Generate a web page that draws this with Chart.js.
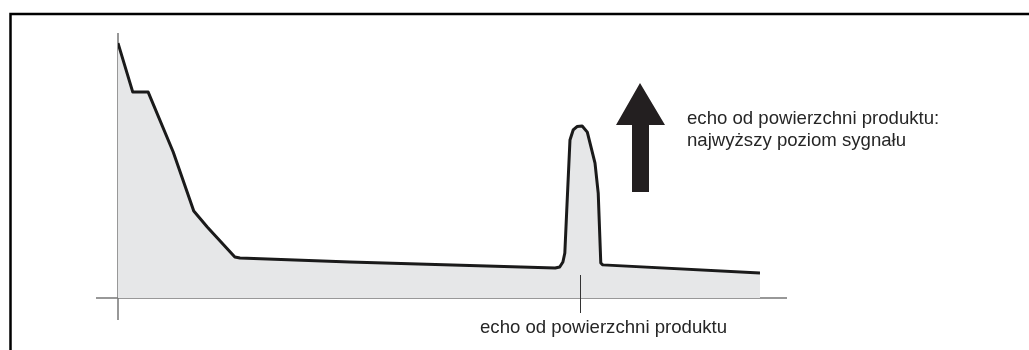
<!DOCTYPE html>
<html>
<head>
<meta charset="utf-8">
<script src="https://cdn.jsdelivr.net/npm/chart.js@4"></script>
<style>
  body { margin: 0; background: #fff; }
  #wrap { position: relative; width: 1029px; height: 350px; }
  .note {
    position: absolute;
    font-family: "Liberation Sans", Arial, sans-serif;
    font-size: 18.6px;
    line-height: 22px;
    color: #262626;
    white-space: nowrap;
  }
</style>
</head>
<body>
<div id="wrap">
  <canvas id="echo" width="1029" height="350"></canvas>
  <div class="note" style="left:687px; top:107px;">echo od powierzchni produktu:<br>najwyższy poziom sygnału</div>
  <div class="note" style="left:480px; top:316px;">echo od powierzchni produktu</div>
</div>
<script>
// echo envelope: distance (x) vs. signal level (y), both 0..100
const distance = [0, 2.3, 4.7, 8.6, 11.8, 13.9, 18.2, 19.0, 36.1, 68.1, 68.8, 69.3, 69.6, 69.9, 70.4, 70.9, 71.5, 72.3, 73.1, 74.3, 74.8, 75.2, 75.5, 100];
const level    = [96.2, 77.7, 77.7, 55.1, 32.8, 26.8, 15.5, 15.1, 13.6, 11.3, 11.7, 13.6, 17.0, 33.2, 59.6, 63.4, 64.7, 64.9, 62.6, 50.9, 39.6, 13.2, 12.5, 9.4];
const echoPos  = [72];

const points = distance.map((x, i) => ({ x: x, y: level[i] }));

const decor = {
  id: "decor",
  beforeDatasetsDraw(chart) {
    const ctx = chart.ctx;
    const a = chart.chartArea;
    ctx.save();
    // axes
    ctx.strokeStyle = "#777";
    ctx.lineWidth = 1.5;
    ctx.beginPath();
    ctx.moveTo(a.left, a.top);
    ctx.lineTo(a.left, a.bottom + 22);
    ctx.moveTo(a.left - 22, a.bottom);
    ctx.lineTo(a.right + 27, a.bottom);
    ctx.stroke();
    ctx.restore();
  },
  afterDatasetsDraw(chart) {
    const ctx = chart.ctx;
    const a = chart.chartArea;
    const xs = chart.scales.x;
    ctx.save();
    // marker under the product echo
    const px = Math.round(xs.getPixelForValue(echoPos[0])) + 0.5;
    ctx.strokeStyle = "#333";
    ctx.lineWidth = 1;
    ctx.beginPath();
    ctx.moveTo(px, a.bottom - 23);
    ctx.lineTo(px, a.bottom + 15);
    ctx.stroke();

    // arrow
    ctx.fillStyle = "#231f20";
    ctx.beginPath();
    ctx.moveTo(640, 83);
    ctx.lineTo(665, 125);
    ctx.lineTo(649, 125);
    ctx.lineTo(649, 192);
    ctx.lineTo(632, 192);
    ctx.lineTo(632, 125);
    ctx.lineTo(616, 125);
    ctx.closePath();
    ctx.fill();

    // frame
    ctx.strokeStyle = "#000";
    ctx.lineWidth = 2.5;
    ctx.beginPath();
    ctx.moveTo(10.5, 360);
    ctx.lineTo(10.5, 14);
    ctx.lineTo(1040, 14);
    ctx.stroke();
    ctx.restore();
  }
};

new Chart(document.getElementById("echo"), {
  type: "line",
  data: {
    datasets: [
      {
        data: points,
        borderColor: "#1a1a1a",
        borderWidth: 3,
        borderJoinStyle: "round",
        backgroundColor: "#e6e7e8",
        fill: "origin",
        pointRadius: 0,
        tension: 0,
      },
    ],
  },
  options: {
    responsive: false,
    animation: false,
    layout: { padding: { left: 118, right: 269, top: 33, bottom: 52 } },
    plugins: { legend: { display: false }, tooltip: { enabled: false } },
    scales: {
      x: { type: "linear", min: 0, max: 100, display: false },
      y: { min: 0, max: 100, display: false },
    },
  },
  plugins: [decor],
});
</script>
</body>
</html>
